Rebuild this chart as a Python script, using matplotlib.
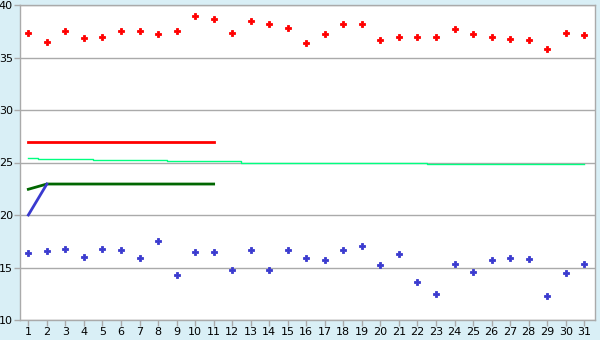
import matplotlib
matplotlib.use("Agg")
from matplotlib import pyplot as plt

days = list(range(1, 32))

high = [37.3, 36.5, 37.5, 36.9, 37.0, 37.5, 37.5, 37.2, 37.5, 39.0,
        38.7, 37.3, 38.5, 38.2, 37.8, 36.35, 37.2, 38.2, 38.2, 36.7,
        37.0, 37.0, 37.0, 37.7, 37.2, 37.0, 36.8, 36.7, 35.8, 37.3, 37.1]

low = [16.35, 16.55, 16.75, 15.97, 16.75, 16.64, 15.88, 17.5, 14.26, 16.45,
       16.45, 14.73, 16.64, 14.73, 16.64, 15.88, 15.69, 16.64, 17.02, 15.21,
       16.26, 13.59, 12.45, 15.3, 14.54, 15.69, 15.88, 15.78, 12.26, 14.45, 15.3]

avg = [25.4, 25.3, 25.3, 25.3, 25.2, 25.2, 25.2, 25.2, 25.1, 25.1,
       25.1, 25.1, 25.0, 25.0, 25.0, 25.0, 24.93, 24.93, 24.93, 24.93,
       24.93, 24.93, 24.86, 24.86, 24.86, 24.86, 24.86, 24.86, 24.86, 24.86, 24.86]

red_x = [1, 11]
red_y = [27, 27]
green_x = [1, 2, 11]
green_y = [22.45, 22.95, 22.95]
blue_x = [1, 2]
blue_y = [20, 22.95]

bg = "#d9eff6"
grid = "#aaaaaa"

fig = plt.figure(figsize=(6, 3.4), dpi=100, facecolor=bg)
ax = fig.add_axes([20/600, 20/340, 575/600, 315/340])
ax.set_facecolor("white")

ax.set_xlim(0.55, 31.58)
ax.set_ylim(10, 40)
ax.set_yticks(range(10, 41, 5))
ax.set_xticks(days)
ax.yaxis.grid(True, color=grid, linewidth=1)
ax.set_axisbelow(True)

for s in ax.spines.values():
    s.set_color(grid)
    s.set_linewidth(1)

ax.tick_params(axis="both", colors=grid, labelcolor="black", labelsize=8,
               length=4, width=1, pad=1)

ax.plot(days, avg, color="#00ff80", linewidth=1, drawstyle="steps-mid")
ax.plot(red_x, red_y, color="#ff0000", linewidth=2)
ax.plot(green_x, green_y, color="#006600", linewidth=2)
ax.plot(blue_x, blue_y, color="#3a3acf", linewidth=2)

ax.plot(days, high, linestyle="none", marker="P", markersize=4.6,
        color="#ff0000", markeredgecolor="#ff0000", markeredgewidth=0.6)
ax.plot(days, low, linestyle="none", marker="P", markersize=4.6,
        color="#3a3acf", markeredgecolor="#3a3acf", markeredgewidth=0.6)

fig.savefig("out.png", dpi=100, facecolor=bg)
